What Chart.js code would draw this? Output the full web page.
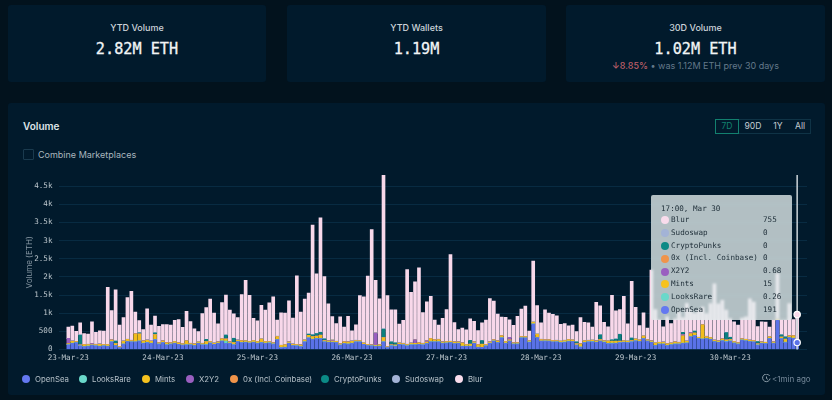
<!DOCTYPE html>
<html>
<head>
<meta charset="utf-8">
<script src="https://cdn.jsdelivr.net/npm/chart.js@4"></script>
<style>
  html,body{margin:0;padding:0;width:832px;height:400px;overflow:hidden;background:#02121d;font-family:Inter,sans-serif}
  .card{position:absolute;background:#011a2c;border-radius:3px}
  .stat-title{position:absolute;left:0;right:0;top:17px;text-align:center;font-size:9px;line-height:12px;font-weight:500;color:#cdd5da}
  .stat-val{position:absolute;left:0;right:0;top:34px;text-align:center;font:500 15.2px/20px "DejaVu Sans Mono",monospace;color:#f2f5f6;-webkit-text-stroke:.3px #f2f5f6}
  .stat-sub{position:absolute;left:0;right:0;top:55px;text-align:center;font-size:9px;line-height:12px;color:#64798a}
  .stat-sub b{font-weight:500;color:#bd5f68}
  canvas{position:absolute;left:0;top:0}
  #ranges{position:absolute;left:715px;top:119px;display:flex;height:15px;font-size:8.6px;line-height:15px;color:#c3ccd2;text-align:center;box-shadow:inset 0 0 0 1px #0f3346}
  #ranges div{box-sizing:border-box;height:15px}
  #ranges .on{border:1px solid #12806f;color:#12806f;line-height:13px}
  #tip{position:absolute;left:651px;top:195px;width:141px;height:125px;background:rgba(228,238,238,.78);border-radius:2px;font:7.6px/12.8px "DejaVu Sans Mono",monospace;color:#20303a;backdrop-filter:blur(1px)}
  #tip .row{position:absolute;left:0;right:0;height:13px}
  #tip i{position:absolute;left:9.5px;top:2.4px;width:8px;height:8px;border-radius:50%}
  #tip .n{position:absolute;left:20px}
  #tip .v{position:absolute;left:112px}
  #legend{position:absolute;left:0;top:373px;height:12px;font-size:7.8px;line-height:12px;color:#b5c0c8}
  #legend span{position:absolute;white-space:nowrap;padding-left:9px}
  #legend i{position:absolute;left:0;top:2px;width:8px;height:8px;border-radius:50%}
</style>
</head>
<body>
<div class="card" style="left:8px;top:5px;width:258px;height:77px">
  <div class="stat-title">YTD Volume</div><div class="stat-val">2.82M ETH</div>
</div>
<div class="card" style="left:287px;top:5px;width:259px;height:77px">
  <div class="stat-title">YTD Wallets</div><div class="stat-val">1.19M</div>
</div>
<div class="card" style="left:566px;top:5px;width:259px;height:77px">
  <div class="stat-title">30D Volume</div><div class="stat-val">1.02M ETH</div>
  <div class="stat-sub"><b>↓8.85%</b> • was 1.12M ETH prev 30 days</div>
</div>
<div class="card" style="left:8px;top:103px;width:817px;height:292px"></div>
<div style="position:absolute;left:23px;top:120px;font-size:10px;line-height:13px;font-weight:600;color:#dfe5e8">Volume</div>
<div style="position:absolute;left:23px;top:149px;width:9px;height:9px;border:1px solid #1a3a4e;border-radius:1px"></div>
<div style="position:absolute;left:38px;top:148px;font-size:9px;line-height:13px;color:#a9b6be">Combine Marketplaces</div>
<div id="ranges">
  <div class="on" style="width:24px">7D</div><div style="width:28px">90D</div><div style="width:22px">1Y</div><div style="width:22px">All</div>
</div>
<canvas id="chart" width="832" height="400"></canvas>
<div id="tip"></div>
<div id="legend"></div>
<div style="position:absolute;left:762px;top:373px;height:12px;font-size:8px;line-height:12px;color:#76899a">
  <svg width="9" height="9" viewBox="0 0 10 10" style="vertical-align:-1px;margin-right:1px"><path d="M8.5 2.2A4.2 4.2 0 1 0 9 5M5 2.8V5l1.5 1" fill="none" stroke="#9aa9b4" stroke-width="1"/></svg>&lt;1min ago
</div>

<script>
const dayLabels = ['23-Mar-23','24-Mar-23','25-Mar-23','26-Mar-23','27-Mar-23','28-Mar-23','29-Mar-23','30-Mar-23'];
const yTickValues = [0,500,1000,1500,2000,2500,3000,3500,4000,4500];
const yTitle = 'Volume (ETH)';
const hoverTitle = '17:00, Mar 30';

// hourly values, one row per day, 30 Mar stops at 17:00
const openSea = [
  130,170,190,100,80,90,120,100,90,100,90,210,110,50,150,220,210,210,230,170,190,170,270,150,
  190,130,150,170,140,120,130,130,110,170,130,130,180,140,170,230,170,170,130,220,190,200,180,200,
  170,190,170,180,150,270,50,60,170,110,100,80,210,320,280,300,300,210,200,200,190,120,160,150,
  170,210,210,140,110,100,90,90,210,50,100,90,140,130,100,130,130,140,130,160,210,210,210,170,
  180,190,160,170,90,90,90,170,60,60,100,170,230,190,320,170,230,150,150,320,320,200,700,330,
  230,230,230,210,210,190,200,220,220,120,70,190,210,210,200,230,200,160,160,170,190,200,190,210,
  240,220,300,230,200,110,150,150,110,130,150,150,170,180,350,380,300,290,300,280,220,200,240,210,
  230,180,150,260,240,220,210,120,170,160,300,170,800,300,190,330,310,191];
const looksRare = [
  6,4,7,5,3,8,4,6,5,7,4,9,6,3,5,7,8,4,6,5,4,7,10,5,
  4,6,5,7,3,4,6,5,8,4,6,9,5,3,7,12,60,5,8,4,6,7,5,3,
  6,4,5,8,7,4,3,6,5,4,7,5,6,9,8,6,10,7,4,5,3,6,4,5,
  6,8,7,4,3,5,2,6,8,3,12,10,5,4,6,3,7,5,4,6,8,7,5,4,
  6,3,5,4,7,6,4,5,8,3,6,5,7,4,6,5,3,7,5,6,4,8,9,6,
  5,7,4,3,6,5,8,10,6,5,4,7,6,12,5,4,9,10,14,6,5,7,4,8,
  5,6,7,4,3,8,5,6,4,7,5,3,9,6,8,10,5,7,4,6,5,3,8,12,
  10,5,6,4,7,5,3,9,6,4,7,5,3,10,12,5,6,0.26];
const mints = [
  30,50,20,20,50,40,20,30,50,30,40,40,50,30,70,50,30,220,190,60,60,50,130,30,
  40,50,30,40,40,30,100,30,30,30,30,80,30,30,30,50,60,30,50,30,40,30,30,40,
  40,90,40,30,30,80,60,60,30,30,30,40,40,60,70,60,80,30,30,30,30,30,50,50,
  50,30,30,30,20,20,20,30,110,20,20,20,30,30,30,40,30,40,30,40,80,50,60,30,
  30,30,40,30,80,40,50,30,60,80,30,30,30,40,50,40,30,30,30,30,30,30,40,80,
  40,30,30,30,30,30,40,40,30,30,80,40,30,30,30,40,30,60,50,50,30,30,30,30,
  40,30,60,30,30,60,40,40,40,40,50,40,200,40,80,60,30,380,50,40,30,30,40,40,
  30,30,30,30,30,30,30,30,30,30,40,30,30,30,80,40,60,15];
const x2y2 = [
  140,5,3,4,2,5,18,6,3,4,2,5,3,2,4,6,3,5,2,4,6,3,5,2,
  4,3,5,2,6,3,4,2,5,3,4,6,2,3,5,4,3,6,2,4,5,3,2,6,
  3,4,2,5,3,6,4,2,3,5,4,2,6,3,5,2,4,3,6,20,2,5,3,4,
  5,2,4,3,2,6,340,4,3,2,5,3,4,6,2,5,100,3,4,30,2,5,3,4,
  6,2,3,5,4,2,6,3,4,2,5,3,6,4,2,3,70,5,2,4,3,6,2,5,
  4,3,2,6,5,3,4,2,3,5,6,2,4,3,5,2,6,4,3,2,5,4,3,6,
  2,5,3,4,6,2,3,5,4,2,3,6,30,4,30,5,2,3,6,4,2,5,3,4,
  2,6,3,5,4,2,3,6,5,2,4,3,5,2,4,6,3,0.68];
const zeroEx = [
  1,2,0,1,1,2,0,1,2,1,0,1,2,1,1,0,2,1,1,2,0,1,1,2,
  0,1,2,1,1,0,2,1,1,0,1,2,1,0,1,1,2,1,0,1,2,1,1,0,
  2,1,0,1,1,2,1,0,1,2,1,1,0,1,2,1,0,1,1,2,1,0,1,1,
  2,1,0,1,1,2,1,0,2,1,1,0,1,2,1,1,0,1,2,1,0,1,1,2,
  1,0,1,2,1,1,0,1,1,2,1,0,1,1,2,1,0,2,1,1,0,1,2,1,
  1,0,1,2,1,1,0,1,2,1,1,0,1,1,2,0,1,1,2,1,0,1,2,1,
  1,0,2,1,1,0,1,2,1,1,0,1,1,2,1,0,1,1,2,1,0,1,2,1,
  0,1,1,2,1,0,1,1,2,1,0,1,2,1,1,0,1,0];
const cryptoPunks = [
  0,0,0,270,0,0,0,0,0,0,0,0,60,0,0,0,0,0,30,0,0,0,40,0,
  0,0,0,0,0,0,0,0,0,0,0,50,0,0,0,0,100,0,120,0,0,0,0,0,
  0,0,0,0,0,0,0,0,0,0,0,0,0,30,40,70,80,40,0,0,0,0,0,0,
  0,0,0,0,0,0,0,0,230,0,70,60,0,0,0,0,0,0,0,0,0,0,0,0,
  0,0,0,0,0,0,100,0,0,100,0,0,0,0,0,0,0,0,0,0,0,0,0,0,
  0,0,0,0,0,0,0,0,0,50,0,0,0,0,0,130,0,0,40,60,190,0,0,60,
  0,0,0,0,0,0,0,0,0,0,0,0,60,0,0,50,0,0,0,0,0,0,0,200,
  60,0,0,0,0,0,0,50,0,0,0,0,0,60,60,0,0,0];
const sudoswap = [
  4,6,3,5,7,4,2,5,6,3,8,4,5,2,6,3,4,7,5,3,4,6,2,5,
  6,4,3,7,5,2,4,6,3,5,4,2,7,5,3,4,6,2,5,4,3,6,7,4,
  5,3,6,4,2,5,7,3,4,6,2,5,4,3,6,2,5,4,7,3,5,4,2,6,
  3,5,4,7,2,6,3,5,4,2,6,3,5,4,7,2,3,6,5,4,2,3,5,6,
  4,7,3,5,2,6,4,3,5,7,2,4,6,3,5,2,4,6,3,5,7,2,4,3,
  6,5,3,4,7,2,5,6,4,3,2,5,6,4,7,3,5,2,4,6,3,5,7,4,
  3,6,2,5,4,7,3,5,6,2,4,3,5,6,2,4,7,3,5,6,4,2,3,5,
  7,4,6,2,3,5,4,7,2,6,3,5,4,6,2,3,5,0];
const blur = [
  305,405,275,330,295,275,595,325,360,360,1570,800,1405,585,645,1145,1345,585,335,305,855,435,465,445,
  445,495,475,575,630,450,805,595,415,280,815,875,1160,825,490,990,1100,870,665,615,1265,1660,1270,605,
  565,925,860,1060,1255,445,885,875,1125,705,1885,895,1120,1125,3015,1645,3145,1715,1010,645,480,735,400,695,
  280,425,1230,1265,1885,3165,1450,1260,4240,1410,880,905,515,625,2055,1395,1595,2055,845,1075,1165,535,385,645,
  875,2380,530,335,405,395,590,565,380,480,665,1190,1055,735,505,665,480,465,725,745,835,260,1675,785,
  450,815,735,715,670,465,460,375,405,280,715,505,480,360,1050,795,500,390,1220,770,675,1215,470,1555,
  870,395,635,315,1940,915,620,415,735,530,635,830,405,1030,605,485,735,485,625,930,1550,1020,1055,615,
  515,535,475,565,615,1135,1055,405,545,555,265,595,1245,405,465,880,440,755];

const seriesNames = ['OpenSea','LooksRare','Mints','X2Y2','0x (Incl. Coinbase)','CryptoPunks','Sudoswap','Blur'];
const seriesValues = [openSea, looksRare, mints, x2y2, zeroEx, cryptoPunks, sudoswap, blur];
const seriesColors = ['#5a72e8','#62d4c4','#f2bd1c','#9a5fc0','#f0944a','#0b8080','#9eb0d8','#f8d8ea'];
const swatchColors = ['#6478f0','#6ad8ca','#f6c21f','#9a5fc0','#f0944a','#0b8a86','#a3b3d6','#f9dcec'];
const legendLeft = [22, 79, 142, 186, 230, 321, 392, 455];
const hoverIndex = openSea.length - 1;

const hours = openSea.map((_, i) => i);
const mono = '"DejaVu Sans Mono", monospace';

const crosshair = {
  id: 'crosshair',
  afterDatasetsDraw(c) {
    const { ctx, scales: { x, y } } = c;
    const px = x.getPixelForValue(hoverIndex);
    const total = seriesValues.reduce((s, arr) => s + arr[hoverIndex], 0);
    ctx.save();
    ctx.strokeStyle = '#cdd5da';
    ctx.lineWidth = 1.5;
    ctx.beginPath();
    ctx.moveTo(px, c.chartArea.top);
    ctx.lineTo(px, c.chartArea.bottom);
    ctx.stroke();
    [[total, seriesColors[7]], [openSea[hoverIndex], seriesColors[0]]].forEach(([v, col]) => {
      ctx.beginPath();
      ctx.arc(px, y.getPixelForValue(v), 3.2, 0, Math.PI * 2);
      ctx.fillStyle = col;
      ctx.fill();
      ctx.strokeStyle = '#fff';
      ctx.lineWidth = 1.2;
      ctx.stroke();
    });
    ctx.restore();
  }
};

new Chart(document.getElementById('chart'), {
  type: 'bar',
  plugins: [crosshair],
  data: {
    labels: hours,
    datasets: seriesNames.map((name, i) => ({
      label: name,
      data: seriesValues[i],
      backgroundColor: seriesColors[i],
      barThickness: 3,
      stack: 'all'
    }))
  },
  options: {
    responsive: false,
    animation: false,
    events: [],
    layout: { padding: { top: 175, right: 25, left: 0, bottom: 0 } },
    plugins: { legend: { display: false }, tooltip: { enabled: false } },
    scales: {
      x: {
        type: 'linear',
        offset: false,
        stacked: true,
        min: -2.5,
        max: hoverIndex + 2.5,
        grid: { display: false, drawTicks: false },
        border: { display: false },
        afterBuildTicks: a => { a.ticks = dayLabels.map((_, i) => ({ value: i * 24 })); },
        afterFit: a => { a.height = 50.5; },
        ticks: {
          autoSkip: false, maxRotation: 0, padding: 3.5, color: '#bcc6cc',
          font: { family: mono, size: 7.6 },
          callback: v => dayLabels[v / 24]
        }
      },
      y: {
        stacked: true,
        min: 0,
        max: 4805,
        afterBuildTicks: a => { a.ticks = yTickValues.map(value => ({ value })); },
        afterFit: a => { a.width = 58.5; },
        grid: { color: 'rgba(24,78,110,.35)', drawTicks: false, lineWidth: 1 },
        border: { display: false },
        title: { display: true, text: yTitle, color: '#8696a2', font: { family: 'Inter', size: 8 }, padding: { top: 25, bottom: 0 } },
        ticks: {
          padding: 6, color: '#bcc6cc',
          font: { family: mono, size: 7.6 },
          callback: v => v >= 1000 ? (v / 1000) + 'k' : v
        }
      }
    }
  }
});

// tooltip rows run top of stack first
const tip = document.getElementById('tip');
tip.innerHTML = `<div class="row" style="top:7.5px;padding-left:10px">${hoverTitle}</div>` +
  seriesNames.map((_, i) => i).reverse().map((i, r) =>
    `<div class="row" style="top:${19 + r * 12.8}px"><i style="background:${swatchColors[i]}"></i><span class="n">${seriesNames[i]}</span><span class="v">${seriesValues[i][hoverIndex]}</span></div>`
  ).join('');

document.getElementById('legend').innerHTML = seriesNames.map((n, i) =>
  `<span style="left:${legendLeft[i]}px;padding-left:13px"><i style="background:${swatchColors[i]}"></i>${n}</span>`
).join('');
</script>
</body>
</html>
